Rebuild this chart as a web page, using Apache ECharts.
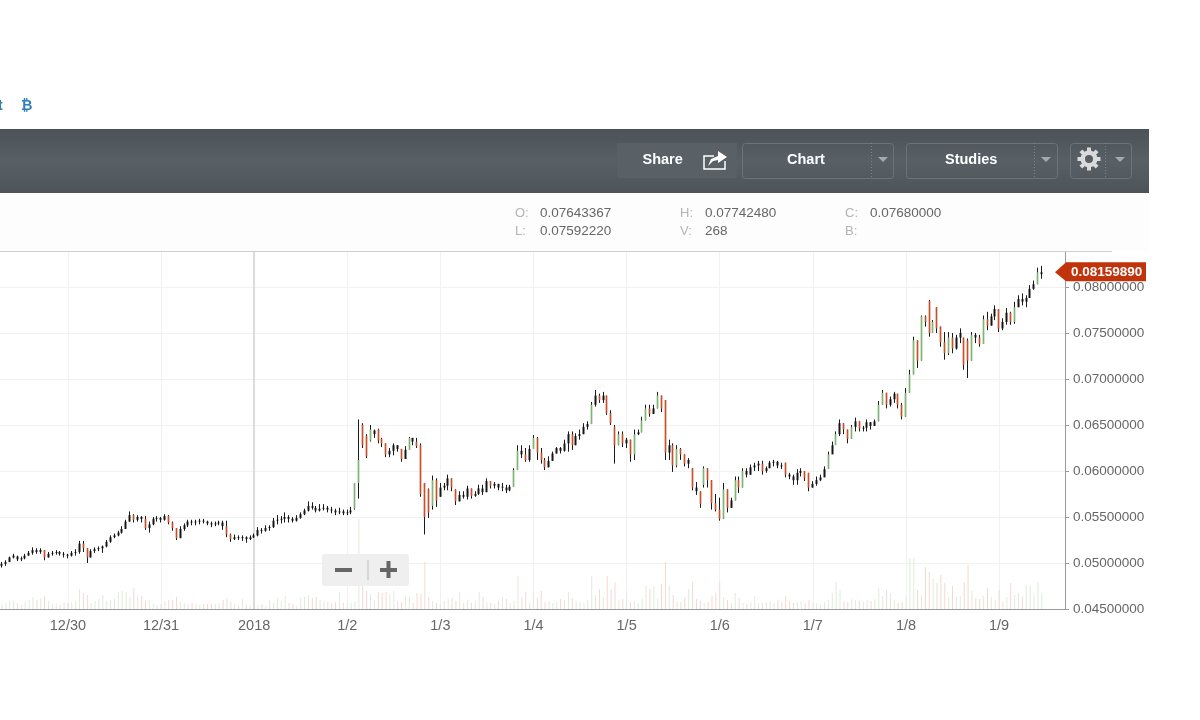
<!DOCTYPE html>
<html>
<head>
<meta charset="utf-8">
<title>chart</title>
<style>
  html, body { margin: 0; padding: 0; background: #fff; }
  #main { width: 1200px; height: 720px; }
</style>
<script src="https://cdn.jsdelivr.net/npm/echarts@6/dist/echarts.min.js"></script>
</head>
<body>
<div id="main"></div>
<script>
// hourly candles
var days = ['12/29', '12/30', '12/31', '2018', '1/2', '1/3', '1/4', '1/5', '1/6', '1/7', '1/8', '1/9'];
var firstHour = 7, slotCount = 275;
var lastPrice = 0.0815989;

var opens = [
  .0497,.0499,.0501,.0506,.0507,.0504,.0505,.0508,.0511,.0514,
  .0512,.0514,.0506,.0510,.0511,.0512,.0510,.0509,.0508,.0511,
  .0512,.0521,.0516,.0506,.0513,.0515,.0516,.0518,.0523,.0528,
  .0530,.0533,.0537,.0545,.0552,.0547,.0550,.0548,.0538,.0542,
  .0548,.0549,.0547,.0551,.0544,.0538,.0527,.0537,.0541,.0545,
  .0544,.0545,.0546,.0545,.0543,.0542,.0543,.0544,.0540,.0531,
  .0526,.0528,.0527,.0528,.0526,.0528,.0530,.0536,.0535,.0538,
  .0539,.0546,.0547,.0548,.0550,.0548,.0546,.0549,.0553,.0557,
  .0562,.0560,.0557,.0559,.0560,.0558,.0557,.0555,.0556,.0554,
  .0555,.0559,.0587,.0650,.0638,.0633,.0640,.0645,.0635,.0630,
  .0618,.0622,.0628,.0624,.0613,.0623,.0636,.0632,.0628,.0587,
  .0580,.0562,.0590,.0572,.0582,.0584,.0592,.0580,.0567,.0574,
  .0572,.0581,.0573,.0575,.0581,.0577,.0589,.0584,.0586,.0582,
  .0582,.0579,.0583,.0601,.0622,.0618,.0612,.0624,.0636,.0620,
  .0612,.0604,.0611,.0619,.0625,.0622,.0630,.0640,.0628,.0638,
  .0640,.0648,.0651,.0672,.0682,.0677,.0682,.0663,.0648,.0628,
  .0640,.0630,.0634,.0618,.0640,.0642,.0655,.0668,.0662,.0668,
  .0682,.0677,.0620,.0628,.0606,.0624,.0618,.0608,.0603,.0582,
  .0578,.0585,.0603,.0590,.0565,.0558,.0548,.0580,.0560,.0568,
  .0590,.0582,.0600,.0596,.0604,.0606,.0608,.0600,.0603,.0609,
  .0610,.0606,.0609,.0596,.0594,.0590,.0598,.0600,.0598,.0582,
  .0586,.0590,.0593,.0602,.0618,.0628,.0640,.0652,.0645,.0635,
  .0648,.0654,.0646,.0647,.0653,.0649,.0654,.0672,.0685,.0672,
  .0678,.0684,.0672,.0659,.0685,.0705,.0742,.0720,.0768,.0785,
  .0750,.0778,.0757,.0740,.0728,.0745,.0733,.0745,.0745,.0742,
  .0720,.0748,.0745,.0738,.0765,.0758,.0768,.0776,.0755,.0762,
  .0772,.0762,.0778,.0787,.0784,.0788,.0798,.0803,.0814
];
var closes = [
  .0499,.0501,.0506,.0508,.0504,.0505,.0508,.0511,.0514,.0512,
  .0514,.0506,.0510,.0511,.0512,.0510,.0509,.0508,.0511,.0512,
  .0521,.0516,.0506,.0513,.0515,.0516,.0518,.0523,.0528,.0530,
  .0533,.0537,.0545,.0552,.0547,.0550,.0548,.0538,.0542,.0548,
  .0549,.0547,.0551,.0544,.0538,.0527,.0537,.0541,.0545,.0544,
  .0545,.0546,.0545,.0543,.0542,.0543,.0544,.0540,.0531,.0526,
  .0528,.0527,.0528,.0526,.0528,.0530,.0536,.0535,.0538,.0539,
  .0546,.0547,.0548,.0550,.0548,.0546,.0549,.0553,.0557,.0562,
  .0560,.0557,.0559,.0560,.0558,.0557,.0555,.0556,.0554,.0555,
  .0557,.0587,.0612,.0628,.0616,.0645,.0644,.0633,.0630,.0618,
  .0622,.0628,.0624,.0613,.0623,.0636,.0632,.0627,.0575,.0550,
  .0555,.0590,.0568,.0582,.0584,.0592,.0582,.0567,.0574,.0572,
  .0581,.0573,.0575,.0581,.0577,.0589,.0584,.0586,.0582,.0583,
  .0579,.0583,.0601,.0622,.0618,.0612,.0624,.0636,.0620,.0612,
  .0604,.0611,.0619,.0625,.0622,.0630,.0640,.0628,.0638,.0640,
  .0648,.0651,.0672,.0682,.0677,.0682,.0663,.0652,.0628,.0640,
  .0630,.0634,.0618,.0640,.0642,.0655,.0668,.0662,.0668,.0682,
  .0668,.0620,.0628,.0606,.0624,.0618,.0608,.0612,.0582,.0578,
  .0564,.0603,.0590,.0565,.0558,.0548,.0580,.0560,.0568,.0590,
  .0582,.0600,.0596,.0604,.0606,.0608,.0600,.0603,.0609,.0610,
  .0606,.0605,.0596,.0594,.0590,.0598,.0600,.0592,.0582,.0586,
  .0590,.0593,.0602,.0618,.0628,.0640,.0652,.0645,.0635,.0648,
  .0654,.0646,.0647,.0653,.0649,.0654,.0672,.0685,.0672,.0678,
  .0684,.0672,.0659,.0685,.0705,.0742,.0720,.0768,.0762,.0750,
  .0762,.0755,.0740,.0728,.0745,.0733,.0745,.0750,.0715,.0720,
  .0748,.0745,.0738,.0765,.0758,.0768,.0776,.0755,.0762,.0772,
  .0762,.0778,.0787,.0784,.0788,.0798,.0803,.0816,.0816
];
var lows = [
  .0495,.0497,.0501,.0505,.0502,.0502,.0504,.0508,.0509,.0510,
  .0510,.0503,.0506,.0508,.0509,.0508,.0506,.0505,.0507,.0508,
  .0510,.0512,.0500,.0506,.0511,.0513,.0511,.0517,.0522,.0527,
  .0529,.0532,.0537,.0545,.0544,.0545,.0544,.0536,.0533,.0541,
  .0545,.0544,.0546,.0542,.0535,.0525,.0527,.0535,.0539,.0541,
  .0541,.0542,.0543,.0541,.0539,.0540,.0541,.0536,.0528,.0523,
  .0525,.0525,.0524,.0522,.0525,.0527,.0529,.0532,.0534,.0535,
  .0538,.0542,.0543,.0544,.0544,.0544,.0545,.0548,.0552,.0556,
  .0558,.0555,.0556,.0557,.0555,.0554,.0552,.0553,.0552,.0552,
  .0553,.0558,.0570,.0625,.0614,.0632,.0636,.0630,.0626,.0615,
  .0615,.0617,.0621,.0610,.0613,.0623,.0628,.0625,.0572,.0531,
  .0549,.0558,.0561,.0572,.0579,.0579,.0578,.0563,.0567,.0570,
  .0569,.0570,.0572,.0574,.0574,.0577,.0581,.0581,.0579,.0578,
  .0576,.0578,.0583,.0601,.0614,.0610,.0610,.0626,.0612,.0608,
  .0601,.0604,.0611,.0619,.0619,.0621,.0621,.0623,.0628,.0634,
  .0640,.0645,.0651,.0670,.0674,.0674,.0661,.0650,.0608,.0628,
  .0626,.0625,.0610,.0612,.0639,.0642,.0655,.0659,.0662,.0668,
  .0664,.0612,.0612,.0599,.0604,.0612,.0605,.0603,.0579,.0574,
  .0560,.0582,.0582,.0558,.0556,.0546,.0548,.0555,.0560,.0568,
  .0576,.0582,.0593,.0596,.0600,.0600,.0596,.0598,.0603,.0605,
  .0603,.0602,.0593,.0591,.0585,.0585,.0594,.0589,.0578,.0582,
  .0584,.0589,.0594,.0603,.0620,.0629,.0638,.0640,.0630,.0635,
  .0643,.0643,.0643,.0643,.0645,.0649,.0654,.0672,.0668,.0670,
  .0674,.0668,.0656,.0659,.0685,.0705,.0712,.0720,.0757,.0746,
  .0750,.0750,.0735,.0721,.0726,.0728,.0732,.0739,.0710,.0701,
  .0720,.0739,.0735,.0738,.0753,.0758,.0764,.0751,.0753,.0759,
  .0759,.0760,.0778,.0780,.0778,.0788,.0797,.0803,.0809
];
var highs = [
  .0501,.0503,.0507,.0510,.0508,.0507,.0510,.0513,.0517,.0516,
  .0516,.0514,.0512,.0513,.0514,.0513,.0512,.0510,.0513,.0515,
  .0524,.0524,.0516,.0515,.0517,.0518,.0519,.0525,.0530,.0532,
  .0535,.0540,.0547,.0556,.0553,.0552,.0551,.0551,.0545,.0550,
  .0551,.0550,.0553,.0552,.0545,.0538,.0540,.0543,.0547,.0547,
  .0547,.0548,.0548,.0546,.0545,.0545,.0546,.0546,.0546,.0532,
  .0531,.0530,.0530,.0529,.0530,.0532,.0539,.0538,.0541,.0541,
  .0549,.0552,.0551,.0555,.0552,.0550,.0552,.0555,.0559,.0567,
  .0566,.0562,.0564,.0564,.0562,.0561,.0559,.0560,.0558,.0558,
  .0561,.0587,.0656,.0652,.0640,.0650,.0645,.0646,.0636,.0630,
  .0625,.0630,.0628,.0624,.0627,.0637,.0636,.0636,.0630,.0587,
  .0581,.0595,.0592,.0587,.0587,.0596,.0592,.0580,.0578,.0578,
  .0584,.0581,.0578,.0585,.0585,.0592,.0589,.0588,.0586,.0587,
  .0585,.0585,.0603,.0628,.0628,.0625,.0628,.0639,.0637,.0625,
  .0614,.0616,.0621,.0626,.0626,.0634,.0643,.0643,.0641,.0645,
  .0652,.0654,.0675,.0688,.0684,.0686,.0682,.0666,.0650,.0643,
  .0643,.0636,.0634,.0645,.0645,.0659,.0672,.0672,.0672,.0686,
  .0682,.0677,.0634,.0630,.0628,.0625,.0618,.0614,.0603,.0588,
  .0578,.0605,.0603,.0590,.0575,.0571,.0587,.0580,.0571,.0594,
  .0594,.0603,.0603,.0607,.0609,.0611,.0611,.0605,.0611,.0612,
  .0611,.0609,.0609,.0598,.0596,.0602,.0603,.0600,.0598,.0589,
  .0594,.0596,.0605,.0621,.0632,.0643,.0656,.0652,.0645,.0650,
  .0658,.0654,.0649,.0656,.0653,.0656,.0676,.0688,.0685,.0681,
  .0686,.0684,.0674,.0690,.0710,.0746,.0742,.0769,.0769,.0786,
  .0764,.0778,.0757,.0751,.0751,.0750,.0748,.0755,.0745,.0744,
  .0751,.0750,.0748,.0769,.0773,.0771,.0780,.0776,.0766,.0777,
  .0773,.0784,.0791,.0793,.0791,.0802,.0807,.0821,.0823
];
var volumes = [
  5,6,8,8,6,5,7,9,12,9,
  11,13,8,5,5,4,6,6,7,8,
  20,16,14,6,8,10,14,8,9,10,
  17,18,17,12,21,14,13,8,9,5,
  4,5,8,9,9,12,7,6,5,6,
  5,4,5,5,5,5,6,9,11,7,
  5,3,10,4,4,6,4,5,3,9,
  6,11,8,13,6,5,3,11,12,14,
  11,12,9,8,7,6,7,17,6,5,
  6,8,90,25,18,15,9,17,16,17,
  15,18,8,7,13,12,6,16,15,47,
  12,8,6,5,8,10,11,8,17,6,
  9,6,8,17,12,7,6,5,8,12,
  10,6,8,33,12,17,6,17,11,18,
  7,8,6,7,10,9,17,11,8,7,
  6,9,33,14,20,12,33,20,27,9,
  10,18,7,8,6,10,23,20,23,11,
  25,47,23,14,8,7,12,20,27,10,
  8,6,7,13,16,27,12,9,6,16,
  11,6,5,7,13,6,6,7,8,6,
  9,7,13,8,6,7,8,6,9,7,
  6,5,7,9,16,27,19,8,7,10,
  9,8,7,9,8,10,21,13,19,16,
  9,6,7,12,51,51,19,14,42,37,
  30,26,34,26,12,23,12,13,27,44,
  18,11,10,13,21,12,9,19,8,12,
  26,14,16,12,24,23,16,27,16
];

// one slot per hour, the last few stay empty
var categories = [];
for (var d = 0; d < days.length; d++) {
  for (var h = d === 0 ? firstHour : 0; h < 24 && categories.length < slotCount; h++) {
    categories.push(days[d] + ' ' + h + ':00');
  }
}
function isDayStart(index) {
  return /^(?!12\/29).* 0:00$/.test(categories[index]);
}

// short bodies read as black on the picture, only long moves show their colour
function bodyColor(open, close) {
  if (close - open >= 0.0012) return '#7fb474';
  if (open - close >= 0.0005) return '#c8502c';
  return '#161616';
}

var wickData = [], bodyData = [], volumeData = [];
for (var i = 0; i < closes.length; i++) {
  var bodyFill = bodyColor(opens[i], closes[i]);
  wickData.push([opens[i], closes[i], lows[i], highs[i]]);
  bodyData.push({
    value: [opens[i], closes[i], Math.min(opens[i], closes[i]), Math.max(opens[i], closes[i])],
    itemStyle: {
      color: bodyFill, color0: bodyFill, borderColor: bodyFill, borderColor0: bodyFill,
      borderWidth: bodyFill === '#161616' ? 2 : 1.7
    }
  });
  volumeData.push({
    value: volumes[i],
    itemStyle: { color: closes[i] >= opens[i] ? '#dfecda' : '#f3d8d1' }
  });
}

var textFont = '"Liberation Sans", Arial, sans-serif';

function label(x, y, text, color, size, weight) {
  return {
    type: 'text', x: x, y: y, z: 20, silent: true,
    style: { text: text, fill: color, fontSize: size, fontWeight: weight || 'normal', fontFamily: textFont, verticalAlign: 'middle' }
  };
}
function box(x, y, w, h, fill, stroke, r) {
  return {
    type: 'rect', z: 19, silent: true,
    shape: { x: x, y: y, width: w, height: h, r: r || 0 },
    style: { fill: fill || 'none', stroke: stroke || 'none', lineWidth: 1 }
  };
}
function arrow(cx, cy) {
  return {
    type: 'polygon', z: 20, silent: true,
    shape: { points: [[cx - 5, cy - 2], [cx + 5, cy - 2], [cx, cy + 3]] },
    style: { fill: '#a4aaaf' }
  };
}
function divider(x) {
  return {
    type: 'line', z: 20, silent: true,
    shape: { x1: x, y1: 143, x2: x, y2: 178 },
    style: { stroke: '#7c8388', lineWidth: 1, lineDash: [1, 2] }
  };
}

function buildChrome() {
  var items = [
    box(0, 129, 1149, 64, {
      type: 'linear', x: 0, y: 0, x2: 0, y2: 1,
      colorStops: [{ offset: 0, color: '#4b5258' }, { offset: 0.5, color: '#586066' }, { offset: 1, color: '#4d5359' }]
    }),
    box(0, 193, 1149, 58, '#fdfdfd'),
    { type: 'line', z: 19, silent: true, shape: { x1: 0, y1: 251.5, x2: 1112, y2: 251.5 }, style: { stroke: '#d0d0d0', lineWidth: 1 } },

    label(-2, 106, 't', '#2f7fb8', 14, 'bold'),
    label(21, 106, '\u20bf', '#2f7fb8', 14, 'bold'),

    box(617, 143, 120, 35, '#596167'),
    label(642.5, 160, 'Share', '#ffffff', 14.5, 'bold'),
    { type: 'polyline', z: 20, silent: true,
      shape: { points: [[714, 156], [704, 156], [704, 169], [725, 169], [725, 161]] },
      style: { fill: 'none', stroke: '#ffffff', lineWidth: 1.5 } },
    { type: 'polygon', z: 20, silent: true,
      shape: { points: [[708, 166], [711, 159], [718, 156], [718, 151], [727, 157], [718, 163], [718, 160], [713, 161]] },
      style: { fill: '#ffffff' } },

    box(742.5, 143.5, 151, 35, 'none', '#6c7379', 3),
    label(787, 160, 'Chart', '#ffffff', 14.5, 'bold'),
    divider(871.5),
    arrow(883, 159),

    box(906.5, 143.5, 151, 35, 'none', '#6c7379', 3),
    label(945, 160, 'Studies', '#ffffff', 14.5, 'bold'),
    divider(1034.5),
    arrow(1046, 159),

    box(1070.5, 143.5, 61, 35, 'none', '#6c7379', 3),
    divider(1105.5),
    arrow(1120, 159),
    { type: 'ring', z: 20, silent: true, shape: { cx: 1089, cy: 159, r: 8.5, r0: 4 }, style: { fill: '#d8dadc' } },

    label(515, 213, 'O:', '#b4b4b4', 13), label(540, 213, '0.07643367', '#666666', 13.5),
    label(515, 231, 'L:', '#b4b4b4', 13), label(540, 231, '0.07592220', '#666666', 13.5),
    label(680, 213, 'H:', '#b4b4b4', 13), label(705, 213, '0.07742480', '#666666', 13.5),
    label(680, 231, 'V:', '#b4b4b4', 13), label(705, 231, '268', '#666666', 13.5),
    label(845, 213, 'C:', '#b4b4b4', 13), label(870, 213, '0.07680000', '#666666', 13.5),
    label(845, 231, 'B:', '#b4b4b4', 13),

    box(322, 554, 87, 32, '#efefef', null, 3),
    box(335, 568, 17, 4, '#666666'),
    box(367.5, 560, 1, 20, '#bbbbbb'),
    box(380, 568, 17, 4, '#666666'),
    box(386.5, 561, 4, 17, '#666666')
  ];
  // gear teeth
  for (var t = 0; t < 8; t++) {
    items.push({
      type: 'rect', z: 20, silent: true, x: 1089, y: 159, rotation: t * Math.PI / 4,
      shape: { x: -2, y: -11.5, width: 4, height: 4 },
      style: { fill: '#d8dadc' }
    });
  }
  return items;
}

var myChart = echarts.init(document.getElementById('main'));
myChart.setOption({
  animation: false,
  backgroundColor: '#ffffff',
  grid: { left: 0, top: 251, bottom: 111, right: 133 },
  xAxis: {
    type: 'category',
    data: categories,
    boundaryGap: true,
    axisLine: { lineStyle: { color: '#9a9a9a', width: 1 } },
    axisTick: { interval: function (index) { return isDayStart(index); }, alignWithLabel: true, length: 5, lineStyle: { color: '#9a9a9a' } },
    axisLabel: {
      interval: function (index) { return isDayStart(index); },
      formatter: function (value) { return value.split(' ')[0]; },
      color: '#666666', fontSize: 14.5, fontFamily: textFont, margin: 9
    },
    splitLine: { show: true, interval: function (index) { return isDayStart(index); }, alignWithLabel: true, lineStyle: { color: '#f1f1f1', width: 1 } }
  },
  yAxis: [
    {
      type: 'value', position: 'right', offset: -2,
      min: 0.045, max: 0.08391, interval: 0.005,
      axisLine: { show: true, lineStyle: { color: '#9a9a9a', width: 1 } },
      axisTick: { show: true, length: 4, lineStyle: { color: '#9a9a9a' } },
      axisLabel: {
        showMaxLabel: false,
        formatter: function (v) { return v.toFixed(8); },
        color: '#666666', fontSize: 13.5, fontFamily: textFont, margin: 8
      },
      splitLine: { show: true, showMaxLine: false, lineStyle: { color: '#f1f1f1', width: 1 } }
    },
    { type: 'value', show: false, min: 0, max: 358, splitLine: { show: false } }
  ],
  series: [
    {
      name: 'volume', type: 'bar', yAxisIndex: 1, barWidth: 1, z: 1, silent: true,
      data: volumeData
    },
    {
      name: 'wicks', type: 'candlestick', barWidth: 1, z: 3, silent: true,
      itemStyle: { color: '#1a1a1a', color0: '#1a1a1a', borderColor: '#1a1a1a', borderColor0: '#1a1a1a', borderWidth: 1 },
      data: wickData,
      markLine: {
        silent: true, symbol: 'none', label: { show: false }, z: 2,
        lineStyle: { color: '#d2d2d2', width: 1.5, type: 'solid' },
        data: [{ xAxis: '2018 0:00' }]
      }
    },
    {
      name: 'bodies', type: 'candlestick', barWidth: 1, z: 4, silent: true,
      data: bodyData
    }
  ],
  graphic: buildChrome()
});

// price tag follows the y scale
var tagY = myChart.convertToPixel({ yAxisIndex: 0 }, lastPrice);
myChart.setOption({
  graphic: buildChrome().concat([
    { type: 'polygon', z: 21, silent: true,
      shape: { points: [[1055, tagY], [1066, tagY - 10], [1146, tagY - 10], [1146, tagY + 9], [1066, tagY + 9]] },
      style: { fill: '#c1330b' } },
    { type: 'text', x: 1071, y: tagY, z: 22, silent: true,
      style: { text: lastPrice.toFixed(8), fill: '#ffffff', fontSize: 13.5, fontWeight: 'bold', fontFamily: textFont, verticalAlign: 'middle' } }
  ])
}, { replaceMerge: ['graphic'] });
</script>
</body>
</html>
